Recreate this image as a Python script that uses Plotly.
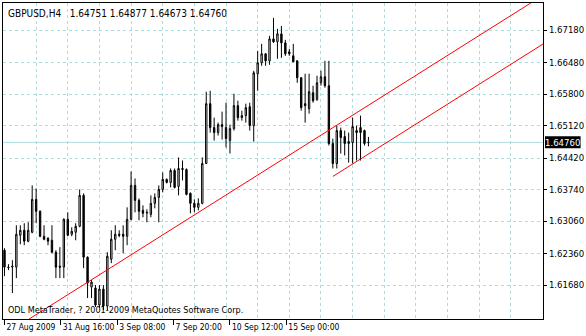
import plotly.graph_objects as go

# ---- data ----
bar_index = list(range(93))
opens = [1.62433, 1.62068, 1.62089, 1.62068, 1.62756, 1.62863, 1.62627, 1.62820, 1.63530, 1.63272,
         1.62734, 1.62691, 1.62648, 1.62390, 1.62089, 1.62068, 1.63100, 1.62777, 1.62820, 1.62949,
         1.63616, 1.62283, 1.61638, 1.61616, 1.61251, 1.61595, 1.61229, 1.62240, 1.62670, 1.62777,
         1.62777, 1.62734, 1.63100, 1.63831, 1.63508, 1.63293, 1.63250, 1.63207, 1.63444, 1.63573,
         1.63745, 1.63960, 1.63895, 1.64153, 1.63809, 1.64196, 1.64175, 1.63659, 1.63444, 1.63358,
         1.63444, 1.64304, 1.65594, 1.65078, 1.64970, 1.65142, 1.65078, 1.64798, 1.65056, 1.65551,
         1.65293, 1.65336, 1.65529, 1.65121, 1.66239, 1.66475, 1.66669, 1.66518, 1.66991, 1.66927,
         1.67099, 1.66905, 1.66712, 1.66626, 1.66518, 1.66153, 1.65594, 1.65486, 1.65830, 1.65680,
         1.66045, 1.66174, 1.65981, 1.64734, 1.64304, 1.65013, 1.64884, 1.64734, 1.64755, 1.65013,
         1.65078, 1.65013, 1.64751]
highs = [1.62476, 1.62132, 1.62218, 1.62971, 1.62971, 1.63014, 1.63035, 1.63831, 1.63766, 1.63293,
         1.62971, 1.62713, 1.62971, 1.62433, 1.62498, 1.63121, 1.63250, 1.62928, 1.63014, 1.63745,
         1.63659, 1.62300, 1.61788, 1.61681, 1.61681, 1.61681, 1.62390, 1.62863, 1.62971, 1.62863,
         1.62971, 1.63358, 1.64132, 1.63981, 1.63551, 1.63401, 1.63315, 1.63616, 1.63659, 1.63831,
         1.64110, 1.63981, 1.64196, 1.64196, 1.64433, 1.64368, 1.64196, 1.63680, 1.63530, 1.63551,
         1.64433, 1.65852, 1.65873, 1.65293, 1.65185, 1.65422, 1.65615, 1.65142, 1.65809, 1.65658,
         1.65443, 1.65594, 1.65615, 1.66303, 1.66733, 1.66884, 1.66680, 1.67056, 1.67443, 1.67206,
         1.67271, 1.66970, 1.66776, 1.66884, 1.66530, 1.66165, 1.66239, 1.66239, 1.65981, 1.66196,
         1.66303, 1.66518, 1.66518, 1.64841, 1.65121, 1.65078, 1.65013, 1.64970, 1.65293, 1.65121,
         1.65336, 1.65035, 1.64877]
lows = [1.61874, 1.62003, 1.61509, 1.61831, 1.62562, 1.62541, 1.62605, 1.62799, 1.63014, 1.62713,
        1.62648, 1.62541, 1.62369, 1.61831, 1.61831, 1.61831, 1.62734, 1.62734, 1.62648, 1.62928,
        1.62046, 1.61401, 1.61401, 1.61208, 1.61186, 1.61143, 1.61143, 1.62154, 1.62433, 1.62713,
        1.62369, 1.62541, 1.63078, 1.63250, 1.63078, 1.63143, 1.63035, 1.63143, 1.63336, 1.63035,
        1.63680, 1.63874, 1.63788, 1.63766, 1.63616, 1.63938, 1.63616, 1.63229, 1.63250, 1.63293,
        1.63422, 1.64290, 1.64970, 1.64798, 1.64906, 1.64820, 1.64648, 1.64519, 1.65013, 1.65228,
        1.65228, 1.65185, 1.65013, 1.64777, 1.65873, 1.66411, 1.66411, 1.66432, 1.66905, 1.66561,
        1.66583, 1.66626, 1.66626, 1.66490, 1.66045, 1.65443, 1.65185, 1.65379, 1.65615, 1.65658,
        1.65981, 1.65938, 1.64691, 1.64196, 1.64196, 1.64519, 1.64476, 1.64325, 1.64304, 1.64368,
        1.64368, 1.64691, 1.64673]
closes = [1.62068, 1.62060, 1.62075, 1.62777, 1.62863, 1.62627, 1.62863, 1.63530, 1.63272, 1.62734,
          1.62670, 1.62627, 1.62390, 1.62068, 1.62068, 1.63100, 1.62756, 1.62842, 1.62949, 1.63616,
          1.62283, 1.61724, 1.61745, 1.61251, 1.61595, 1.61229, 1.62304, 1.62670, 1.62777, 1.62756,
          1.62734, 1.63100, 1.63831, 1.63508, 1.63272, 1.63229, 1.63240, 1.63444, 1.63573, 1.63745,
          1.63960, 1.63895, 1.64153, 1.63788, 1.64196, 1.64175, 1.63637, 1.63444, 1.63358, 1.63444,
          1.64304, 1.65594, 1.65078, 1.64970, 1.65142, 1.65099, 1.64841, 1.65056, 1.65551, 1.65293,
          1.65336, 1.65508, 1.65121, 1.66260, 1.66475, 1.66669, 1.66518, 1.66991, 1.66927, 1.67099,
          1.66905, 1.66669, 1.66669, 1.66497, 1.66153, 1.65508, 1.65551, 1.65852, 1.65658, 1.66045,
          1.66174, 1.65981, 1.64734, 1.64304, 1.65013, 1.64863, 1.64734, 1.64777, 1.65099, 1.64970,
          1.64970, 1.64734, 1.64760]

time_tick_pos = [0, 14.25, 28.5, 42.75, 57, 71.25]
time_tick_text = ["27 Aug 2009", "31 Aug 16:00", "3 Sep 08:00", "7 Sep 20:00",
                  "10 Sep 12:00", "15 Sep 00:00"]
price_ticks = [1.6718, 1.6648, 1.6580, 1.6512, 1.6442, 1.6374, 1.6306, 1.6236, 1.6168]
price_tick_text = ["1.67180", "1.66480", "1.65800", "1.65120", "1.64420", "1.63740",
                   "1.63060", "1.62360", "1.61680"]
time_grid = list(range(8, 137, 8))

# channel (two parallel trend lines): anchor bars / prices
channel_main_bars = [26, 88]
channel_main_prices = [1.62011, 1.65344]
channel_lower_start_bar = 83
channel_lower_start_price = 1.64024

symbol_title = "GBPUSD,H4\u00a0\u00a0 1.64751 1.64877 1.64673 1.64760"
footer = "ODL MetaTrader, ? 2001-2009 MetaQuotes Software Corp."

FONT = "Liberation Sans Narrow, DejaVu Sans Condensed, Arial Narrow, Liberation Sans, sans-serif"
GRID = "#a9dede"
X_RANGE = [-0.375, 136.125]
Y_RANGE = [1.609495, 1.67765]
W, H = 586, 336
ML, MR, MT, MB = 2, 38, 2, 17
PLOT_W = W - ML - MR
PLOT_H = H - MT - MB
PRICE_PER_PX = (Y_RANGE[1] - Y_RANGE[0]) / PLOT_H

fig = go.Figure()

fig.add_trace(go.Candlestick(
    x=bar_index, open=opens, high=highs, low=lows, close=closes,
    increasing=dict(fillcolor="white", line=dict(color="black", width=1)),
    decreasing=dict(fillcolor="black", line=dict(color="black", width=1)),
    whiskerwidth=0, showlegend=False, hoverinfo="skip",
))

slope = (channel_main_prices[1] - channel_main_prices[0]) / (channel_main_bars[1] - channel_main_bars[0])
x_ext = [-2, 140]
fig.add_trace(go.Scatter(
    x=x_ext,
    y=[channel_main_prices[0] + slope * (xx - channel_main_bars[0]) for xx in x_ext],
    mode="lines", line=dict(color="red", width=1), showlegend=False, hoverinfo="skip"))
x_low = [channel_lower_start_bar, 140]
fig.add_trace(go.Scatter(
    x=x_low,
    y=[channel_lower_start_price + slope * (xx - channel_lower_start_bar) for xx in x_low],
    mode="lines", line=dict(color="red", width=1), showlegend=False, hoverinfo="skip"))

# helper trace for the vertical grid axis
fig.add_trace(go.Scatter(x=[None], y=[None], xaxis="x2", showlegend=False, hoverinfo="skip"))

last_close = closes[-1]
fig.add_shape(type="line", xref="paper", x0=0, x1=1, yref="y", y0=last_close, y1=last_close,
              line=dict(color=GRID, width=1), layer="below")

# black price label on the price scale
fig.add_shape(type="rect", xref="paper", x0=1 + 2 / PLOT_W, x1=1 + MR / PLOT_W,
              yref="y", y0=last_close - 6 * PRICE_PER_PX, y1=last_close + 6 * PRICE_PER_PX,
              fillcolor="black", line=dict(width=0), layer="above")
fig.add_annotation(xref="paper", x=1, xanchor="left", xshift=1, yref="y", y=last_close,
                   yanchor="middle", text=f"{last_close:.5f}", showarrow=False,
                   borderpad=0, font=dict(family=FONT, size=9.5, color="white"))
fig.add_annotation(xref="paper", x=0, xanchor="left", xshift=3, yref="paper", y=1,
                   yanchor="top", yshift=-3, text=symbol_title, showarrow=False,
                   font=dict(family=FONT, size=10, color="black"))
fig.add_annotation(xref="paper", x=0, xanchor="left", xshift=3, yref="paper", y=0,
                   yanchor="bottom", yshift=2, text=footer, showarrow=False,
                   font=dict(family=FONT, size=9, color="black"))

fig.update_layout(
    width=W, height=H,
    margin=dict(l=ML, r=MR, t=MT, b=MB, pad=0),
    paper_bgcolor="white", plot_bgcolor="white",
    font=dict(family=FONT, size=10, color="black"),
    showlegend=False,
    xaxis=dict(range=X_RANGE, rangeslider=dict(visible=False), showgrid=False, zeroline=False,
               tickmode="array", tickvals=time_tick_pos, ticktext=time_tick_text,
               tickangle=0, ticks="outside", ticklen=5, tickcolor="black", tickwidth=1,
               ticklabelposition="outside right", ticklabelshift=1,
               showline=True, linecolor="black", linewidth=1, mirror=True,
               tickfont=dict(family=FONT, size=8.5, color="black")),
    xaxis2=dict(range=X_RANGE, overlaying="x", showgrid=True, gridcolor=GRID, griddash="3px,3px",
                gridwidth=1, tickmode="array", tickvals=time_grid, showticklabels=False,
                ticks="", zeroline=False, showline=False),
    yaxis=dict(range=Y_RANGE, side="right", showgrid=True, gridcolor=GRID, griddash="3px,3px",
               gridwidth=1, zeroline=False, tickmode="array", tickvals=price_ticks,
               ticktext=price_tick_text, ticks="outside", ticklen=3, tickcolor="black",
               showline=True, linecolor="black", linewidth=1, mirror=True,
               tickfont=dict(family=FONT, size=9.5, color="black")),
    boxgap=0.5,
)

fig.write_html("out.html")
